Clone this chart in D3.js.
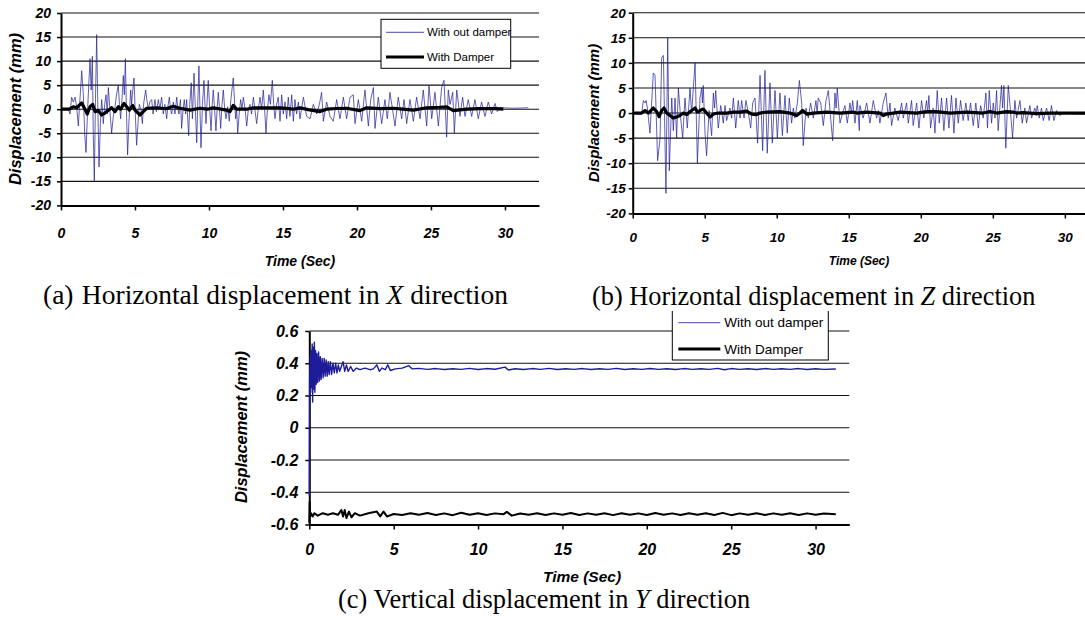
<!DOCTYPE html>
<meta charset="utf-8">
<title>Displacement with and without damper</title>
<script src="https://d3js.org/d3.v7.min.js"></script>
<style>
  body { margin: 0; background: #fff; }
  text { font-family: "Liberation Sans", Arial, sans-serif; }
  .ttl { font-weight: bold; font-style: italic; }
  .cap { font-family: "Liberation Serif", "Times New Roman", serif; }
</style>
<body>
</body>
<script>
// ---- data: [time (s), displacement (mm)] ----
var xTicks = [0, 5, 10, 15, 20, 25, 30];
var yTicksXZ = [-20, -15, -10, -5, 0, 5, 10, 15, 20];
var yTicksY = [-0.6, -0.4, -0.2, 0, 0.2, 0.4, 0.6];
var seriesNames = ["With out damper", "With Damper"];

var xNoDamper = [[0,0],[0.5,0],[0.61,-1],[0.72,2.5],[0.83,1.5],[0.95,2.5],[1.06,0.5],[1.17,-3.5],[1.28,2],[1.4,8],
  [1.51,3],[1.6,-5],[1.69,-9],[1.8,0],[1.96,10.5],[2.04,4],[2.12,11],[2.18,-5],[2.25,-15],[2.33,2],[2.41,15.5],
  [2.49,0],[2.57,-12],[2.66,-3],[2.75,2],[2.86,-3],[2.95,1],[3.04,3],[3.12,-1],[3.2,4.5],[3.3,0],[3.42,-5],
  [3.55,-1],[3.65,0.5],[3.75,3],[3.87,5],[3.95,1],[4.03,-2],[4.12,2],[4.21,7],[4.28,3],[4.35,10.5],[4.42,0],
  [4.5,-9.5],[4.6,-2],[4.71,4],[4.77,1],[4.82,3],[4.93,6.5],[5.02,-1],[5.11,-7.5],[5.2,-3],[5.29,1],[5.4,0],
  [5.5,-3],[5.58,1],[5.72,4],[5.8,2],[5.9,0],[6,1.5],[6.13,2],[6.22,-1],[6.35,2],[6.45,-0.5],[6.58,2],[6.68,0],
  [6.8,2.5],[6.91,-1],[7.02,1],[7.14,-2],[7.22,0.5],[7.32,2.5],[7.4,0],[7.48,-1],[7.59,1.5],[7.7,-1],[7.82,2.5],
  [7.9,0],[7.97,-1],[8.07,2],[8.15,-4],[8.25,0],[8.33,2],[8.42,-1],[8.49,2],[8.56,-2],[8.63,-5.5],[8.7,1],
  [8.8,5.5],[8.88,-2],[8.99,7.5],[9.08,0],[9.17,-7],[9.25,2],[9.32,9],[9.39,0],[9.46,-8],[9.56,1],[9.66,6],
  [9.73,1],[9.8,-3],[9.88,2],[9.95,6],[10.05,0],[10.14,-4.5],[10.22,1],[10.29,4],[10.38,0],[10.47,-4.5],[10.55,0],
  [10.63,3.5],[10.71,0],[10.79,-4],[10.88,1],[10.97,4],[11.06,0],[11.15,-2],[11.26,0.5],[11.37,-2.5],[11.48,2],
  [11.64,6.5],[11.72,2],[11.8,-2],[11.87,0],[11.94,-5],[12.04,-1],[12.14,2],[12.23,0],[12.32,2.5],[12.44,0],
  [12.55,-3.5],[12.66,0],[12.77,1],[12.88,-1],[13,2.5],[13.1,0],[13.22,-3],[13.33,0],[13.45,2.5],[13.56,0],
  [13.67,4],[13.76,0],[13.85,-5],[13.95,0],[14.05,3],[14.15,1],[14.28,6],[14.37,1],[14.46,-2],[14.57,1],
  [14.68,2.5],[14.8,-2.5],[14.91,3],[15.02,-1],[15.14,1.5],[15.25,-2],[15.36,2.5],[15.47,-1.5],[15.59,3],
  [15.7,-2.5],[15.81,2],[15.92,-1],[16.04,1.5],[16.15,-2],[16.38,2.5],[16.6,-1.5],[16.83,-2],[17.05,1],
  [17.28,-1],[17.46,1],[17.61,3.5],[17.73,-2.5],[17.95,1.5],[18.18,-1.5],[18.4,-2.5],[18.63,2],[18.85,-2],
  [19.08,2.5],[19.3,-2],[19.53,2.5],[19.75,3],[19.87,-3],[20.09,2],[20.32,-2.5],[20.54,4],[20.77,-3.5],
  [20.93,2],[21.11,4.5],[21.22,-4],[21.44,2.5],[21.67,-3],[21.89,2],[22.05,-2],[22.23,3.5],[22.57,-3.5],
  [22.79,2.5],[23.02,-2],[23.18,2],[23.36,-3],[23.58,2],[23.81,-2.5],[24.03,2.5],[24.26,-2],[24.48,4],
  [24.71,-3.5],[24.87,5],[25.05,-2],[25.27,3.5],[25.5,-3.5],[25.72,4.5],[25.88,6],[26.06,-5.8],[26.17,4],
  [26.29,1],[26.47,3.5],[26.58,-5],[26.74,4],[26.96,-1.5],[27.14,2.5],[27.3,-1.5],[27.52,2],[27.75,-1.5],
  [27.97,2],[28.2,-2],[28.42,1.5],[28.65,-1.5],[28.87,1.5],[29.1,-1],[29.33,1.2],[29.48,-0.5],[29.66,0.3],
  [30.56,0.2],[31.58,0.3]];

var xDamper = [[0,0],[0.55,0],[0.83,0.5],[1.06,0.3],[1.4,1.3],[1.62,0],[1.78,-1],[1.96,0.5],[2.14,1],[2.3,-0.5],
  [2.52,-0.3],[2.75,-1.2],[2.97,-0.8],[3.2,-0.2],[3.42,0.3],[3.65,-0.5],[3.87,0.5],[4.03,0],[4.26,1.2],[4.44,0.5],
  [4.62,-0.2],[4.84,0.8],[5,-0.2],[5.34,-1.2],[5.56,-0.5],[5.79,0.2],[6.5,0.3],[7.1,0.1],[7.59,0.6],[8.03,0.2],
  [8.72,-0.2],[9.39,0.2],[9.9,0],[10.29,0.3],[11.19,-0.2],[11.42,-0.5],[11.64,0.8],[11.87,0],[12.55,0],[13,0.3],
  [13.9,0.3],[14.8,0.3],[15.7,0],[16.15,0.3],[16.7,-0.1],[17.5,-0.5],[17.95,0],[18.6,0.15],[19.3,0.2],
  [20.2,-0.3],[20.65,0.3],[21.56,0.1],[22.46,0.2],[23.1,0],[23.81,-0.2],[24.71,0.3],[25.61,0.4],[26.06,0.5],
  [26.51,-0.3],[27.41,0],[28.31,0.1],[29.44,0.1],[29.89,0]];

var zNoDamper = [[0,0],[0.62,-0.2],[0.74,2.5],[0.86,2],[0.93,2.5],[1.02,1],[1.2,-4],[1.43,8],[1.55,7.5],[1.73,-9.5],
  [1.9,-5],[2.01,11],[2.13,11.5],[2.31,-16],[2.43,15],[2.54,-11.5],[2.71,3],[2.82,-3.5],[2.94,3],[3.05,-5],
  [3.17,5],[3.33,-1],[3.47,-5],[3.63,3],[3.79,-3],[3.98,5],[4.09,0],[4.33,10],[4.49,-10],[4.67,3],[4.79,5],
  [4.84,2],[4.9,5.5],[5.02,-4],[5.13,-8.5],[5.3,0.5],[5.48,-4.5],[5.6,4],[5.68,1],[5.76,4.5],[5.94,-3],
  [6.11,1.5],[6.29,-2],[6.41,1.5],[6.52,-1.5],[6.75,1],[6.87,-1],[6.99,3],[7.15,-3],[7.33,2.5],[7.45,-1],
  [7.56,2.5],[7.73,-1],[7.86,2.5],[8.03,0],[8.19,-3],[8.33,2],[8.49,3],[8.67,-6],[8.84,7.5],[9.02,-7.5],
  [9.18,8.5],[9.34,-8],[9.53,6],[9.69,-6],[9.88,4.5],[10.04,-5],[10.22,4],[10.39,-4.5],[10.57,3.5],[10.73,-4],
  [10.87,3],[11.03,-2],[11.15,1],[11.26,-1],[11.43,2],[11.57,6.5],[11.73,2],[11.84,-6.5],[12.03,1],[12.19,-1],
  [12.35,2],[12.54,-1],[12.72,2.5],[12.8,0],[12.88,3],[13.05,2],[13.23,-2.5],[13.42,2.5],[13.58,4.5],[13.74,-1],
  [13.88,-5.5],[14.04,4],[14.12,1],[14.2,5],[14.39,-2],[14.57,0],[14.73,1.5],[14.9,-2],[15.08,2],[15.18,0],
  [15.27,2.5],[15.43,-2],[15.59,2.5],[15.73,-3.5],[15.77,1.5],[16,-1],[16.24,2],[16.47,-2],[16.7,2.5],
  [16.93,-1],[17.05,0.5],[17.16,-2],[17.39,2],[17.58,4],[17.74,-1],[17.86,2],[17.97,-2.5],[18.2,1],[18.43,-1.5],
  [18.67,2],[18.78,-1],[19.01,2],[19.13,-2],[19.36,2.5],[19.47,-2.5],[19.71,2],[19.87,-3],[20.05,2.5],
  [20.21,-1],[20.4,2.5],[20.48,0],[20.56,3.5],[20.68,-3],[20.86,1],[20.98,-4],[21.14,4.5],[21.28,-2],[21.44,3],
  [21.6,-3.5],[21.79,3],[21.95,-3],[22.13,3.5],[22.3,-4],[22.44,3],[22.6,-2],[22.76,2.5],[22.94,-1.5],
  [23.13,2],[23.29,-1.5],[23.45,2],[23.64,-2.5],[23.82,2],[23.99,-3],[24.15,1.5],[24.33,-1],[24.52,4],
  [24.63,-3],[24.75,4.5],[24.91,-2],[25.03,2],[25.15,-1],[25.26,4.5],[25.37,-3.5],[25.6,5.5],[25.68,1],
  [25.77,5.5],[25.9,-7],[26.07,5.5],[26.18,2],[26.37,-5],[26.53,2.5],[26.65,-1],[26.88,2.5],[27.04,-2],
  [27.22,1],[27.34,-2],[27.57,1.5],[27.69,-1],[27.92,1],[28,-0.5],[28.08,1.5],[28.22,-1],[28.38,1],[28.5,-1.5],
  [28.73,1],[28.91,-1.5],[29.07,1.5],[29.24,-1.5],[29.42,0.5],[29.65,-0.5],[29.88,0],[30.5,-0.1],[31.4,-0.2]];

var zDamper = [[0,0],[0.62,0],[0.86,0.5],[1.09,0],[1.43,1],[1.67,0.3],[1.83,-0.7],[2.01,0.5],[2.17,1],[2.36,0],
  [2.59,-0.5],[2.82,-1],[3.05,-0.8],[3.28,-0.5],[3.52,0],[3.75,-0.3],[4.09,0.5],[4.33,1],[4.49,0.2],[4.67,0.5],
  [4.9,0.8],[5.13,0],[5.37,-0.8],[5.6,-0.2],[5.94,0],[6.52,0],[6.99,0.2],[7.45,0.2],[7.91,0.4],[8.26,-0.2],
  [8.6,-0.3],[8.84,0],[9.3,0.2],[10.22,0.3],[10.92,0],[11.38,-0.5],[11.61,0],[11.8,0.5],[12.08,-0.2],[12.54,0],
  [13.46,0.2],[14.39,0],[15.31,0.2],[15.54,0],[16.24,0.2],[17.16,0],[17.39,-0.5],[17.62,-0.2],[18.55,0.2],
  [19.71,0],[20.4,0.3],[21.09,0.3],[22.02,0],[23.18,0.2],[24.33,0],[24.79,0.3],[25.26,0],[25.95,0.3],
  [26.41,0.2],[26.65,0],[27.11,0.1],[28.03,-0.1],[28.96,0],[31.6,0]];

var yNoDamper = [[0,-0.42],[0.02,0.3],[0.05,0.45],[0.08,0.22],[0.11,0.48],[0.14,0.25],[0.17,0.52],[0.2,0.16],
  [0.23,0.5],[0.26,0.24],[0.3,0.53],[0.33,0.22],[0.37,0.48],[0.41,0.27],[0.45,0.46],[0.5,0.28],[0.55,0.47],
  [0.6,0.29],[0.65,0.44],[0.7,0.3],[0.76,0.43],[0.82,0.31],[0.88,0.43],[0.94,0.32],[1,0.42],[1.06,0.32],
  [1.12,0.41],[1.18,0.33],[1.25,0.41],[1.32,0.33],[1.4,0.4],[1.48,0.34],[1.56,0.4],[1.64,0.34],[1.72,0.39],
  [1.8,0.35],[1.9,0.38],[2,0.41],[2.1,0.35],[2.2,0.39],[2.3,0.35],[2.45,0.38],[2.6,0.35],[2.8,0.37],[3,0.36],
  [3.3,0.37],[3.6,0.36],[3.8,0.365],[4,0.39],[4.15,0.35],[4.3,0.37],[4.5,0.36],[4.65,0.39],[4.8,0.355],
  [5.1,0.365],[5.5,0.37],[5.9,0.385],[6.1,0.365],[6.5,0.368],[7,0.362],[7.5,0.367],[8,0.361],[8.5,0.366],
  [9,0.362],[9.5,0.368],[10,0.361],[10.5,0.367],[11,0.363],[11.6,0.376],[11.8,0.358],[12.2,0.366],[12.7,0.361],
  [13.2,0.367],[13.7,0.362],[14.2,0.368],[14.7,0.361],[15.2,0.366],[15.7,0.362],[16.2,0.367],[16.7,0.361],
  [17.2,0.366],[17.7,0.362],[18.2,0.368],[18.7,0.361],[19.2,0.366],[19.7,0.362],[20.2,0.367],[20.7,0.362],
  [21.2,0.366],[21.7,0.361],[22.2,0.367],[22.7,0.362],[23.2,0.366],[23.7,0.362],[24.2,0.368],[24.6,0.36],
  [25,0.367],[25.5,0.362],[26,0.366],[26.5,0.361],[27,0.367],[27.5,0.362],[28,0.366],[28.5,0.362],[29,0.367],
  [29.5,0.361],[30,0.366],[30.5,0.362],[31.2,0.364]];

var yDamper = [[0,-0.59],[0.02,-0.46],[0.05,-0.55],[0.1,-0.53],[0.2,-0.55],[0.3,-0.53],[0.5,-0.545],[0.8,-0.53],
  [1.1,-0.54],[1.4,-0.53],[1.7,-0.54],[1.9,-0.51],[2,-0.55],[2.1,-0.51],[2.2,-0.56],[2.35,-0.52],[2.5,-0.555],
  [2.7,-0.53],[3,-0.545],[3.5,-0.53],[4,-0.52],[4.2,-0.55],[4.4,-0.52],[4.6,-0.55],[5,-0.535],[5.5,-0.541],
  [6,-0.53],[6.5,-0.54],[7,-0.529],[7.5,-0.541],[8,-0.531],[8.5,-0.542],[9,-0.527],[9.5,-0.54],[10,-0.53],
  [10.5,-0.541],[11,-0.531],[11.5,-0.537],[11.7,-0.522],[12,-0.545],[12.5,-0.532],[13,-0.54],[13.5,-0.53],
  [14,-0.541],[14.5,-0.531],[15,-0.54],[15.5,-0.529],[16,-0.541],[16.5,-0.531],[17,-0.54],[17.5,-0.53],
  [18,-0.542],[18.5,-0.53],[19,-0.54],[19.5,-0.531],[20,-0.541],[20.5,-0.529],[21,-0.54],[21.5,-0.531],
  [22,-0.541],[22.5,-0.53],[23,-0.54],[23.5,-0.53],[24,-0.541],[24.5,-0.528],[25,-0.542],[25.5,-0.531],
  [26,-0.54],[26.5,-0.53],[27,-0.541],[27.5,-0.531],[28,-0.54],[28.5,-0.53],[29,-0.541],[29.5,-0.531],
  [30,-0.54],[30.5,-0.532],[31.2,-0.536]];

var svg = d3.select("body").append("svg")
    .attr("width", 1085)
    .attr("height", 622);

function drawPanel(p) {
  var x = d3.scaleLinear().domain([0, p.xMax]).range([p.left, p.right]);
  var y = d3.scaleLinear().domain([p.yTicks[0], p.yTicks[p.yTicks.length - 1]]).range([p.bottom, p.top]);
  var g = svg.append("g");

  // gridlines
  g.selectAll("line.grid")
    .data(p.yTicks.slice(1))
    .enter().append("line")
      .attr("x1", x(0)).attr("x2", p.right)
      .attr("y1", function (d) { return y(d); })
      .attr("y2", function (d) { return y(d); })
      .attr("stroke", "#111").attr("stroke-width", 1.1);

  var xa = g.append("g")
    .attr("transform", "translate(0," + p.bottom + ")")
    .call(d3.axisBottom(x).tickValues(xTicks).tickSize(5).tickSizeOuter(0)
      .tickPadding(p.xPad).tickFormat(function (d) { return String(d); }));
  var ya = g.append("g")
    .attr("transform", "translate(" + p.left + ",0)")
    .call(d3.axisLeft(y).tickValues(p.yTicks).tickSize(4).tickSizeOuter(0)
      .tickPadding(p.yPad).tickFormat(function (d) { return String(d); }));
  [xa, ya].forEach(function (a) {
    a.select(".domain").attr("stroke", "#000").attr("stroke-width", 2);
    a.selectAll(".tick line").attr("stroke", "#000").attr("stroke-width", 1.5);
    a.selectAll(".tick text").attr("font-size", p.tickSize).attr("fill", "#000")
      .attr("font-weight", "bold").attr("font-style", "italic")
      .attr("font-family", "'Liberation Sans', Arial, sans-serif");
  });

  var line = d3.line()
    .x(function (d) { return x(d[0]); })
    .y(function (d) { return y(d[1]); });
  g.append("path").datum(p.blue).attr("d", line)
    .attr("fill", "none").attr("stroke", "#1c1c98").attr("stroke-width", p.blueW)
    .attr("stroke-linejoin", "round");
  g.append("path").datum(p.black).attr("d", line)
    .attr("fill", "none").attr("stroke", "#000").attr("stroke-width", p.blackW)
    .attr("stroke-linejoin", "round");

  g.append("text").attr("class", "ttl")
    .attr("transform", "translate(" + p.yTitle[0] + "," + p.yTitle[1] + ") rotate(-90)")
    .attr("text-anchor", "middle").attr("font-size", p.yTitle[2])
    .text("Displacement (mm)");
  g.append("text").attr("class", "ttl")
    .attr("x", p.xTitle[0]).attr("y", p.xTitle[1])
    .attr("text-anchor", "middle").attr("font-size", p.xTitle[2])
    .text("Time (Sec)");
}

function drawLegend(lg) {
  var g = svg.append("g");
  g.append("rect").attr("x", lg.x).attr("y", lg.y).attr("width", lg.w).attr("height", lg.h)
    .attr("fill", "#fff").attr("stroke", "#000").attr("stroke-width", 1);
  var rows = [{c: "#1c1c98", w: 0.8}, {c: "#000", w: 3}];
  rows.forEach(function (r, i) {
    var yy = lg.rowY[i];
    g.append("line").attr("x1", lg.x + lg.s0).attr("x2", lg.x + lg.s1)
      .attr("y1", yy).attr("y2", yy).attr("stroke", r.c).attr("stroke-width", r.w);
    g.append("text").attr("x", lg.x + lg.tx).attr("y", yy + lg.dy)
      .attr("font-size", lg.size).attr("fill", "#000").text(seriesNames[i]);
  });
}

drawPanel({left: 61, right: 539, top: 13, bottom: 205.4, xMax: 32.3, yTicks: yTicksXZ,
  xPad: 18, yPad: 6, tickSize: 14, blue: xNoDamper, black: xDamper, blueW: 0.7, blackW: 3.2,
  yTitle: [21, 109, 16.5], xTitle: [300, 266, 14]});
drawLegend({x: 381, y: 19.3, w: 129.7, h: 49, s0: 5, s1: 43, tx: 46, rowY: [32.3, 57], dy: 4, size: 11.5});

drawPanel({left: 632.7, right: 1098, top: 12.7, bottom: 213.4, xMax: 32.3, yTicks: yTicksXZ,
  xPad: 14, yPad: 3, tickSize: 13.5, blue: zNoDamper, black: zDamper, blueW: 0.7, blackW: 3.2,
  yTitle: [599, 113, 15], xTitle: [859, 265, 12]});

drawPanel({left: 309.3, right: 849.3, top: 331, bottom: 524.5, xMax: 32, yTicks: yTicksY,
  xPad: 14, yPad: 7, tickSize: 16, blue: yNoDamper, black: yDamper, blueW: 1.4, blackW: 2,
  yTitle: [247, 427, 16.5], xTitle: [582, 582, 15.5]});
drawLegend({x: 672.3, y: 304, w: 156, h: 56, s0: 6, s1: 48, tx: 52, rowY: [322.7, 349], dy: 4.5, size: 13.5});

// captions
svg.append("text").attr("class", "cap").attr("x", 43).attr("y", 304)
  .attr("font-size", 27.5).text("(a)");
var capA = svg.append("text").attr("class", "cap").attr("x", 508).attr("y", 304)
  .attr("text-anchor", "end").attr("font-size", 27.5);
capA.append("tspan").text("Horizontal displacement in ");
capA.append("tspan").attr("font-style", "italic").text("X");
capA.append("tspan").text(" direction");

svg.append("rect").attr("x", 585).attr("y", 283).attr("width", 460).attr("height", 28).attr("fill", "#fff");
var capB = svg.append("text").attr("class", "cap").attr("x", 592).attr("y", 305).attr("font-size", 26.3);
capB.append("tspan").text("(b) Horizontal displacement in ");
capB.append("tspan").attr("font-style", "italic").text("Z");
capB.append("tspan").text(" direction");

var capC = svg.append("text").attr("class", "cap").attr("x", 338).attr("y", 608).attr("font-size", 26.4);
capC.append("tspan").text("(c) Vertical displacement in ");
capC.append("tspan").attr("font-style", "italic").text("Y");
capC.append("tspan").text(" direction");
</script>
